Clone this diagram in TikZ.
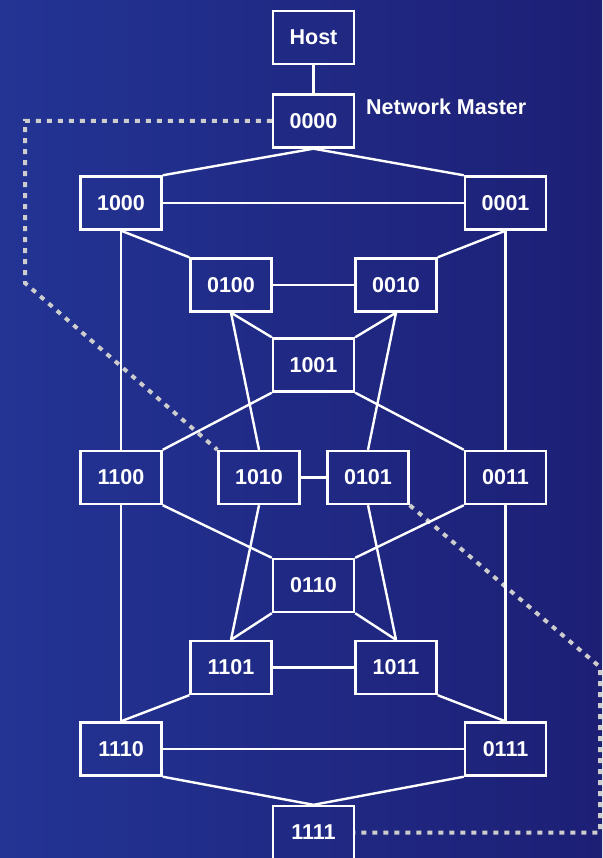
\documentclass[tikz,border=0pt]{standalone}
\usepackage{fontspec}
\setmainfont{Liberation Sans}
\definecolor{bgL}{RGB}{35,52,148}
\definecolor{bgR}{RGB}{29,31,117}
\definecolor{dotc}{RGB}{205,205,205}
\begin{document}
\begin{tikzpicture}[x=1pt,y=-1pt,
  nd/.style={draw=white, line width=2.4pt, minimum width=81pt, minimum height=53pt, inner sep=0pt, text=white, font=\fontsize{21.5}{24}\selectfont\bfseries},
  ln/.style={draw=white, line width=2.4pt},
  dt/.style={draw=dotc, line width=4pt, dash pattern=on 5pt off 6pt},
  lbl/.style={text=white, inner sep=0pt, font=\fontsize{21.5}{24}\selectfont\bfseries}]
\useasboundingbox (0,0) rectangle (602,858);
\shade[left color=bgL, right color=bgR] (0,0) rectangle (602,858);
% nodes
\node[nd] (host) at (313.5,37.5) {Host};
\node[nd] (n0000) at (313.5,121) {0000};
\node[lbl, anchor=base west] (nm) at (366,115) {Network Master};
\node[nd] (n1000) at (121,203) {1000};
\node[nd] (n0001) at (505.5,203) {0001};
\node[nd] (n0100) at (231,285) {0100};
\node[nd] (n0010) at (396,285) {0010};
\node[nd] (n1001) at (313.5,365) {1001};
\node[nd] (n1100) at (121,477.5) {1100};
\node[nd] (n1010) at (259,477.5) {1010};
\node[nd] (n0101) at (368,477.5) {0101};
\node[nd] (n0011) at (505.5,477.5) {0011};
\node[nd] (n0110) at (313.5,585.5) {0110};
\node[nd] (n1101) at (231,667.5) {1101};
\node[nd] (n1011) at (396,667.5) {1011};
\node[nd] (n1110) at (121,749) {1110};
\node[nd] (n0111) at (505.5,749) {0111};
\node[nd] (n1111) at (313.5,832.5) {1111};
% dotted ring
\coordinate (d1) at (25,121);
\coordinate (d2) at (25,283);
\coordinate (d3) at (600,667);
\coordinate (d4) at (600,832.5);
\draw[dt] (n0000.west) -- (d1) -- (d2) -- (n1010.north west);
\draw[dt] (n0101.south east) -- (d3) -- (d4) -- (n1111.east);
% edges
\draw[ln] (host.south) -- (n0000.north);
\draw[ln] (n0000.south) -- (n1000.north east);
\draw[ln] (n0000.south) -- (n0001.north west);
\draw[ln] (n1000.east) -- (n0001.west);
\draw[ln] (n1000.south) -- (n0100.north west);
\draw[ln] (n1000.south) -- (n1100.north);
\draw[ln] (n0001.south) -- (n0010.north east);
\draw[ln] (n0001.south) -- (n0011.north);
\draw[ln] (n0100.east) -- (n0010.west);
\draw[ln] (n0100.south) -- (n1001.north west);
\draw[ln] (n0100.south) -- (n1010.north);
\draw[ln] (n0010.south) -- (n1001.north east);
\draw[ln] (n0010.south) -- (n0101.north);
\draw[ln] (n1001.south west) -- (n1100.north east);
\draw[ln] (n1001.south east) -- (n0011.north west);
\draw[ln] (n1010.east) -- (n0101.west);
\draw[ln] (n1100.south east) -- (n0110.north west);
\draw[ln] (n0011.south west) -- (n0110.north east);
\draw[ln] (n1010.south) -- (n1101.north);
\draw[ln] (n0101.south) -- (n1011.north);
\draw[ln] (n0110.south west) -- (n1101.north);
\draw[ln] (n0110.south east) -- (n1011.north);
\draw[ln] (n1101.east) -- (n1011.west);
\draw[ln] (n1101.south west) -- (n1110.north);
\draw[ln] (n1011.south east) -- (n0111.north);
\draw[ln] (n1100.south) -- (n1110.north);
\draw[ln] (n0011.south) -- (n0111.north);
\draw[ln] (n1110.east) -- (n0111.west);
\draw[ln] (n1110.south east) -- (n1111.north);
\draw[ln] (n0111.south west) -- (n1111.north);
\end{tikzpicture}
\end{document}
